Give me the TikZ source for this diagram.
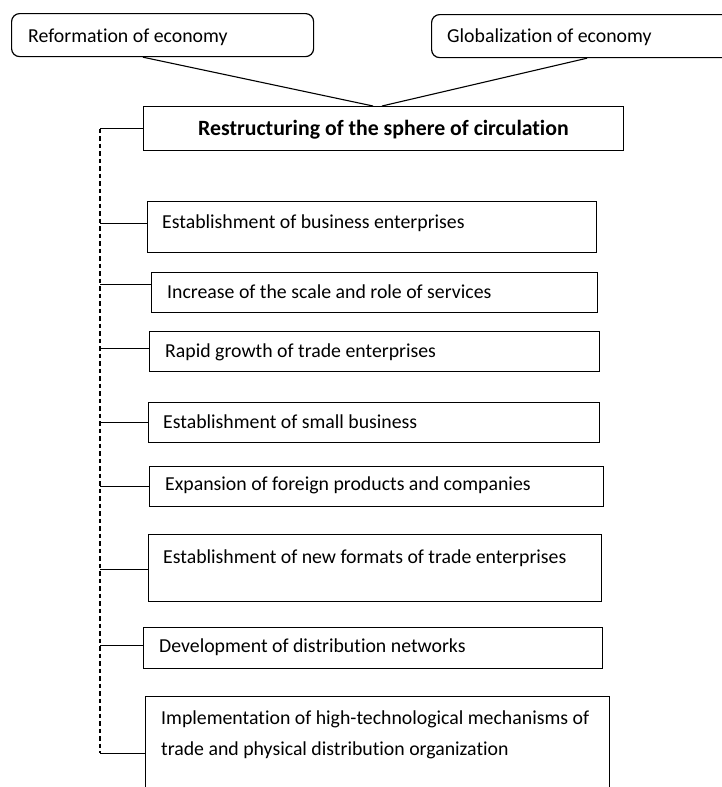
\documentclass[tikz,border=0pt]{standalone}
\usepackage{fontspec}
\setmainfont{Carlito}[Ligatures=CommonOff]
\begin{document}
\begin{tikzpicture}[x=1pt,y=-1pt,
  box/.style={draw=black,line width=1.2pt,inner sep=0pt,anchor=north west},
  rbox/.style={box,rounded corners=8pt},
  lbl/.style={inner sep=0pt,anchor=base west,font=\fontsize{19.8}{28}\selectfont},
  conn/.style={draw=black,line width=1.1pt}]
\useasboundingbox (0,0) rectangle (722,787);
\clip (0,0) rectangle (722,787);
\fill[white] (0,0) rectangle (722,787);
% top boxes
\node[rbox,minimum width=302pt,minimum height=43pt] (ref) at (11,13) {};
\node[rbox,minimum width=310pt,minimum height=43pt] (glob) at (431,14) {};
\node[lbl] (tref) at (28,42) {Reformation of economy};
\node[lbl] (tglob) at (447,42) {Globalization of economy};
% main box
\node[box,minimum width=480pt,minimum height=44pt] (rs) at (143,106) {};
\node[lbl,font=\fontsize{21.8}{28}\selectfont\bfseries] (trs) at (198,135) {Restructuring of the sphere of circulation};
\draw[conn] ([xshift=132pt]ref.south west) -- ([xshift=230pt]rs.north west);
\draw[conn] ([xshift=156pt]glob.south west) -- ([xshift=239pt]rs.north west);
% list boxes
\node[box,minimum width=449pt,minimum height=51pt] (b1) at (147,201) {};
\node[box,minimum width=446pt,minimum height=40pt] (b2) at (151,272) {};
\node[box,minimum width=450pt,minimum height=40pt] (b3) at (149,331) {};
\node[box,minimum width=451pt,minimum height=40pt] (b4) at (148,402) {};
\node[box,minimum width=454pt,minimum height=40pt] (b5) at (149,466) {};
\node[box,minimum width=453pt,minimum height=67pt] (b6) at (148,534) {};
\node[box,minimum width=459pt,minimum height=41pt] (b7) at (143,627) {};
\node[box,minimum width=464pt,minimum height=114pt] (b8) at (145,696) {};
\node[lbl] (t1) at (162,228) {Establishment of business enterprises};
\node[lbl] (t2) at (167,298) {Increase of the scale and role of services};
\node[lbl] (t3) at (165,357) {Rapid growth of trade enterprises};
\node[lbl] (t4) at (163,428) {Establishment of small business};
\node[lbl] (t5) at (165,490) {Expansion of foreign products and companies};
\node[lbl] (t6) at (163,563) {Establishment of new formats of trade enterprises};
\node[lbl] (t7) at (159,652) {Development of distribution networks};
\node[lbl] (t8a) at (161,724) {Implementation of high-technological mechanisms of};
\node[lbl] (t8b) at (161,755) {trade and physical distribution organization};
% dashed spine
\coordinate (dtop) at (100,128.5);
\coordinate (dbot) at (100,753);
\draw[line width=1.1pt,dash pattern=on 4.5pt off 3pt] (dtop) -- (dbot);
\draw[conn] (rs.west) -- (rs.west -| dtop);
\draw[conn] ([yshift=3.5pt]b1.west) -- ([yshift=3.5pt]b1.west -| dtop);
\draw[conn] ([yshift=8pt]b2.west) -- ([yshift=8pt]b2.west -| dtop);
\draw[conn] ([yshift=3pt]b3.west) -- ([yshift=3pt]b3.west -| dtop);
\draw[conn] (b4.west) -- (b4.west -| dtop);
\draw[conn] (b5.west) -- (b5.west -| dtop);
\draw[conn] ([yshift=-1.5pt]b6.west) -- ([yshift=-1.5pt]b6.west -| dtop);
\draw[conn] ([yshift=2.5pt]b7.west) -- ([yshift=2.5pt]b7.west -| dtop);
\draw[conn] (b8.west) -- (b8.west -| dtop);
\end{tikzpicture}
\end{document}
